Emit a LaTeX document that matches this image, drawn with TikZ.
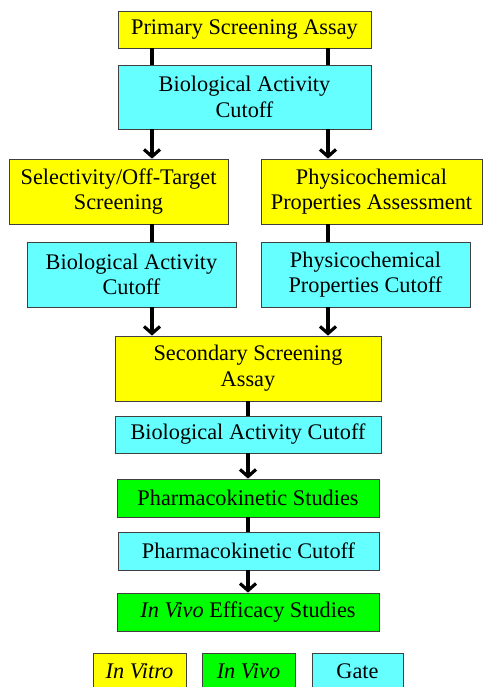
\documentclass[tikz,border=0pt]{standalone}
\usepackage{fontspec}
\setmainfont{Liberation Serif}
\usetikzlibrary{arrows.meta}
\definecolor{vitroyellow}{RGB}{255,255,0}
\definecolor{vivogreen}{RGB}{0,255,0}
\definecolor{gatecyan}{RGB}{102,255,255}
\tikzstyle{box} = [rectangle, inner sep=0pt, align=center, draw=black!75, line width=0.8pt, font=\fontsize{22.3}{25.7}\selectfont]
\tikzstyle{invitro} = [box, fill=vitroyellow]
\tikzstyle{invivo} = [box, fill=vivogreen]
\tikzstyle{gate} = [box, fill=gatecyan]
\tikzstyle{link} = [line width=3.2pt]
\tikzstyle{arrow} = [line width=3.2pt, -{Straight Barb[length=7pt,width=16pt]}]

\begin{document}
\begin{tikzpicture}[x=1pt, y=-1pt]
\useasboundingbox (0,0) rectangle (483,687);
\coordinate (lanea) at (152,0);
\coordinate (laneb) at (328,0);
\coordinate (lanec) at (248,0);

\node(primscreen) [invitro, minimum width=253pt, minimum height=37pt] at (244.5,29.5) {Primary Screening Assay};
\node(biocuta) [gate, minimum width=253pt, minimum height=64pt] at (244.5,97) {Biological Activity\\Cutoff};
\node(selscreen) [invitro, minimum width=219pt, minimum height=65pt] at (118.5,191.5) {Selectivity/Off-Target\\Screening};
\node(physassess) [invitro, minimum width=221pt, minimum height=65pt] at (371.5,191.5) {Physicochemical\\Properties Assessment};
\node(biocutb) [gate, minimum width=209pt, minimum height=65pt] at (131.5,274.5) {Biological Activity\\Cutoff};
\node(physcut) [gate, minimum width=209pt, minimum height=65pt] at (365.5,274.5) {Physicochemical\\Properties Cutoff};
\node(secscreen) [invitro, minimum width=266pt, minimum height=65pt] at (248,368.5) {Secondary Screening\\Assay};
\node(biocutc) [gate, minimum width=266pt, minimum height=37pt] at (248,434.5) {Biological Activity Cutoff};
\node(pkstudy) [invivo, minimum width=262pt, minimum height=38pt] at (248,498) {Pharmacokinetic Studies};
\node(pkcut) [gate, minimum width=261pt, minimum height=38pt] at (248.5,551) {Pharmacokinetic Cutoff};
\node(efficacy) [invivo, minimum width=262pt, minimum height=38pt] at (248,612) {\textit{In Vivo} Efficacy Studies};

% legend
\node(keyvitro) [invitro, minimum width=93pt, minimum height=37pt] at (139.5,671.5) {\textit{In Vitro}};
\node(keyvivo) [invivo, minimum width=93pt, minimum height=37pt] at (248.5,671.5) {\textit{In Vivo}};
\node(keygate) [gate, minimum width=91pt, minimum height=37pt] at (357.5,671.5) {Gate};

\draw [link] (primscreen.south -| lanea) -- (biocuta.north -| lanea);
\draw [link] (primscreen.south -| laneb) -- (biocuta.north -| laneb);
\draw [arrow] (biocuta.south -| lanea) -- (selscreen.north -| lanea);
\draw [arrow] (biocuta.south -| laneb) -- (physassess.north -| laneb);
\draw [link] (selscreen.south -| lanea) -- (biocutb.north -| lanea);
\draw [link] (physassess.south -| laneb) -- (physcut.north -| laneb);
\draw [arrow] (biocutb.south -| lanea) -- (secscreen.north -| lanea);
\draw [arrow] (physcut.south -| laneb) -- (secscreen.north -| laneb);
\draw [link] (secscreen.south -| lanec) -- (biocutc.north -| lanec);
\draw [arrow] (biocutc.south -| lanec) -- (pkstudy.north -| lanec);
\draw [link] (pkstudy.south -| lanec) -- (pkcut.north -| lanec);
\draw [arrow] (pkcut.south -| lanec) -- (efficacy.north -| lanec);

\end{tikzpicture}
\end{document}
